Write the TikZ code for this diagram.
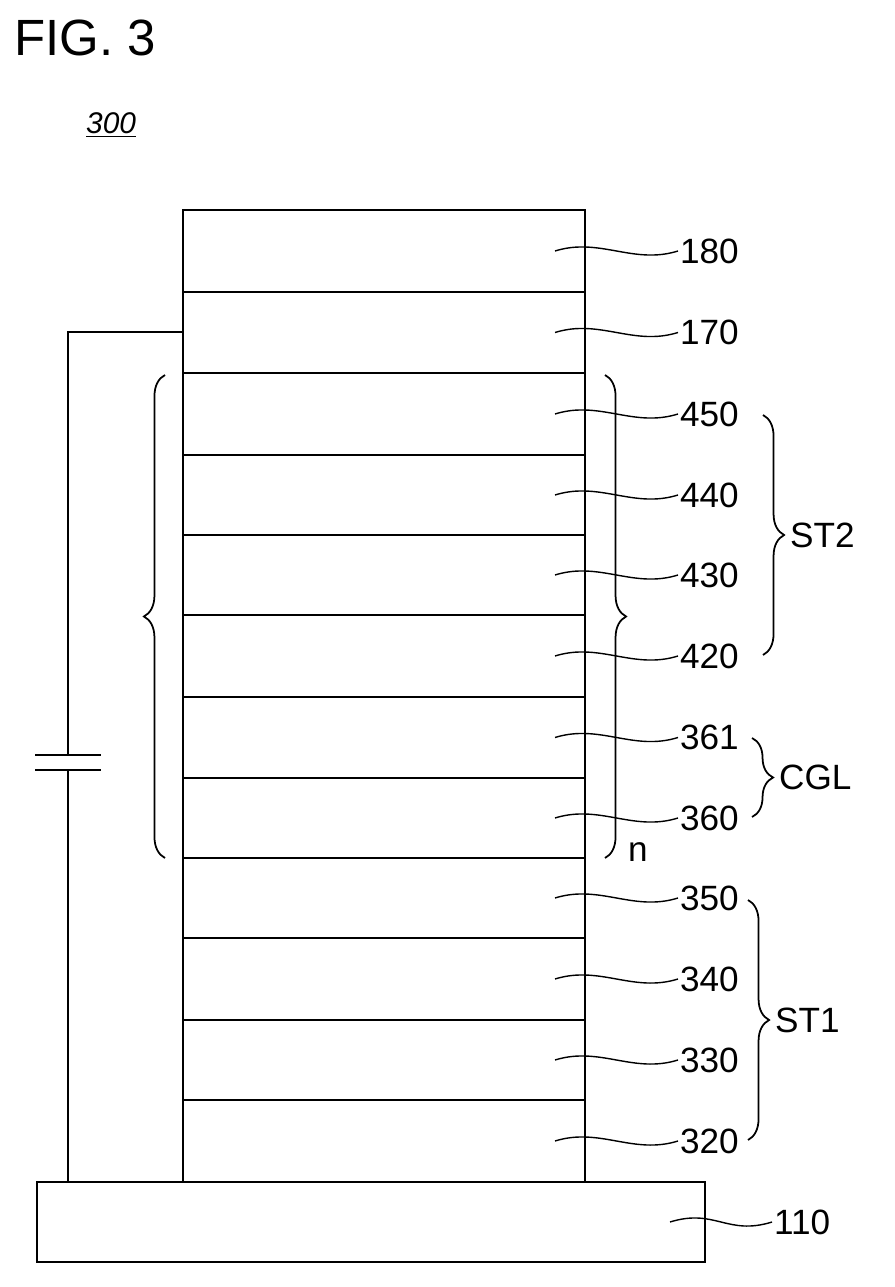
\documentclass[tikz,border=0pt]{standalone}
\usepackage{fontspec}
\setmainfont{Liberation Sans}
\usetikzlibrary{decorations.pathreplacing}
\begin{document}
\begin{tikzpicture}[x=0.02cm,y=-0.02cm,
        layer/.style={draw, line width=1pt},
        lbl/.style={font=\fontsize{20}{22}\selectfont, anchor=west, inner sep=1pt},
        brc/.style={decorate, decoration={brace, amplitude=12pt}, line width=1pt}
    ]
        \useasboundingbox (0,0) rectangle (895,1287);
        \node[anchor=north west, font=\fontsize{29}{32}\selectfont, inner sep=0] (fig) at (14,20) {FIG. 3};
        \node[anchor=west, font=\fontsize{17}{18}\itshape] (num) at (80,125) {\underline{300}};
        % layer stack
        \foreach \name/\top/\bot [count=\i] in {180/210/292, 170/292/373, 450/373/455, 440/455/535, 430/535/615, 420/615/697, 361/697/778, 360/778/858, 350/858/938, 340/938/1020, 330/1020/1100, 320/1100/1182} {
            \draw[layer] (183,\top) rectangle (585,\bot);
            \coordinate (s\name) at (555,{(\top+\bot)/2});
            \node[lbl] (t\name) at (678,{(\top+\bot)/2}) {\name};
            \draw[line width=0.8pt] (s\name) .. controls ++(45,-14) and ++(-45,14) .. (t\name.west);
        }
        \draw[layer] (37,1182) rectangle (705,1262);
        \coordinate (s110) at (670,1222);
        \node[lbl] (t110) at (772,1222) {110};
        \draw[line width=0.8pt] (s110) .. controls ++(45,-14) and ++(-45,14) .. (t110.west);
        % power supply
        \coordinate (w1) at (183,332);
        \coordinate (w2) at (68,332);
        \coordinate (w3) at (68,1182);
        \draw[line width=1pt] (w1) -- (w2) -- (68,755);
        \draw[line width=1pt] (68,770) -- (w3);
        \draw[line width=1.2pt] (35,755) -- (101,755);
        \draw[line width=1.2pt] (35,770) -- (101,770);
        % braces
        \draw[brc] (165,858) -- (165,375);
        \draw[brc] (605,375) -- (605,858);
        \node[lbl] (n) at (626,852) {n};
        \draw[brc] (763,415) -- (763,655) node[lbl, midway, xshift=14pt] (st2) {ST2};
        \draw[brc] (752,738) -- (752,817) node[lbl, midway, xshift=14pt] (cgl) {CGL};
        \draw[brc] (748,900) -- (748,1140) node[lbl, midway, xshift=14pt] (st1) {ST1};
    \end{tikzpicture}
\end{document}
